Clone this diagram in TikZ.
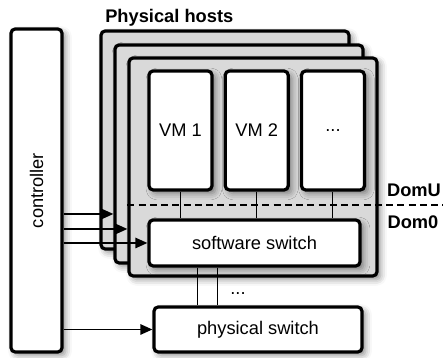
\documentclass[tikz,border=0pt]{standalone}
\usepackage{fontspec}
\setmainfont{Liberation Sans}
\usetikzlibrary{arrows.meta,shadows.blur,positioning}

\tikzset{
  box/.style={draw, line width=2.3pt, rounded corners=3pt, fill=white,
    blur shadow={shadow xshift=2.5pt, shadow yshift=-2.5pt, shadow blur radius=4.5pt, shadow opacity=45},
    font=\fontsize{13}{15}\selectfont, inner sep=0pt},
  host/.style={box, fill=black!15, minimum width=6.2cm, minimum height=5.45cm},
  vmbox/.style={box, minimum width=1.575cm, minimum height=2.975cm},
  link/.style={line width=0.7pt},
  ctrlarrow/.style={line width=1.1pt, -{Triangle[length=3mm,width=2.6mm]}},
  domlabel/.style={font=\fontsize{13}{15}\selectfont\bfseries},
}

\begin{document}
\begin{tikzpicture}
    \useasboundingbox (0,0) rectangle (11.075,8.95);

    % Controller
    \node[box, minimum width=1.275cm, minimum height=8.075cm] (ctrl) at (0.9125,4.1875) {};
    \node[rotate=90, font=\fontsize{13}{15}\selectfont] (ctrltext) at (ctrl.center) {controller};

    % Physical hosts (back to front)
    \node[host] (host1) at (5.625,5.45) {};
    \node[host] (host2) at (5.975,5.1) {};
    \node[host] (host3) at (6.325,4.775) {};
    \node[anchor=south west, font=\fontsize{13}{15}\selectfont\bfseries, inner sep=2pt, xshift=2pt] (title) at (host1.north west) {Physical hosts};

    % Virtual machines
    \node[vmbox] (vm1) at (4.5125,5.6875) {VM 1};
    \node[vmbox, right=0.25cm of vm1] (vm2) {VM 2};
    \node[vmbox, right=0.25cm of vm2] (vm3) {...};

    % Switches
    \node[box, minimum width=5.275cm, minimum height=1.15cm] (sw) at (6.3625,2.875) {software switch};
    \node[box, minimum width=5.2cm, minimum height=1.125cm] (phys) at (6.45,0.7125) {physical switch};

    % VM to software switch
    \draw[link] (vm1.south) -- (vm1.south |- sw.north);
    \draw[link] (vm2.south) -- (vm2.south |- sw.north);
    \draw[link] (vm3.south) -- (vm3.south |- sw.north);

    % DomU / Dom0 split
    \coordinate (split) at (11.075,3.825);
    \draw[dashed, line width=1.2pt, dash pattern=on 5pt off 3pt] (host3.west |- split) -- (split);
    \node[domlabel] (domu) at (10.35,4.2) {DomU};
    \node[domlabel] (dom0) at (10.325,3.4) {Dom0};

    % Software switch to physical switch
    \draw[link] ([xshift=-1.4375cm]sw.south) -- ([xshift=-1.4375cm]sw.south |- phys.north);
    \draw[link] ([xshift=-0.9375cm]sw.south) -- ([xshift=-0.9375cm]sw.south |- phys.north);
    \node[font=\fontsize{13}{15}\selectfont] (dots) at (5.95,1.62) {...};

    % Controller to switches
    \coordinate (c1) at (0,3.6);
    \coordinate (c2) at (0,3.225);
    \draw[ctrlarrow] (ctrl.east |- c1) -- (host2.west |- c1);
    \draw[ctrlarrow] (ctrl.east |- c2) -- (host3.west |- c2);
    \draw[ctrlarrow] (ctrl.east |- sw.west) -- (sw.west);
    \draw[ctrlarrow] (ctrl.east |- phys.west) -- (phys.west);
  \end{tikzpicture}
\end{document}
